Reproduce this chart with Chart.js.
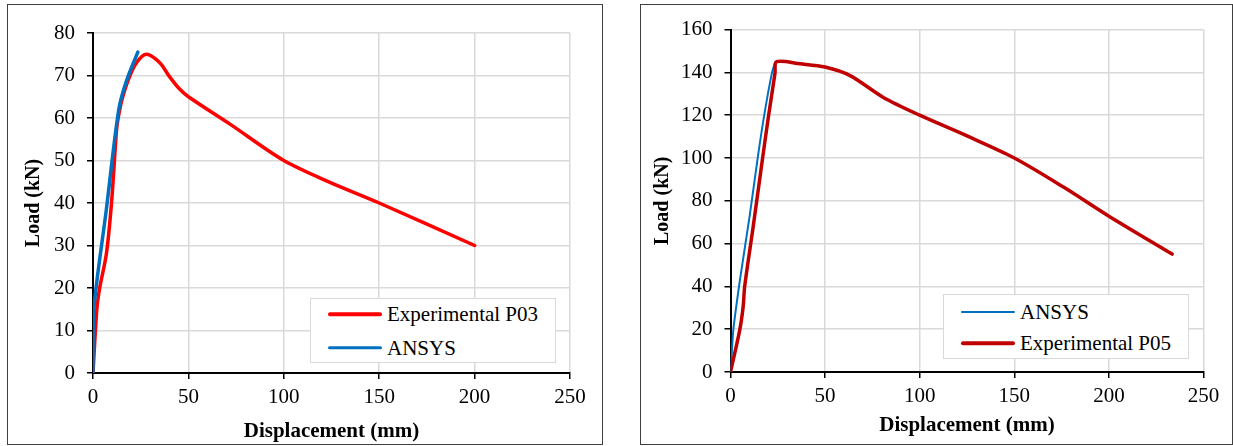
<!DOCTYPE html>
<html>
<head>
<meta charset="utf-8">
<script src="https://cdn.jsdelivr.net/npm/chart.js@4.4.1/dist/chart.umd.min.js"></script>
<style>
  body { margin: 0; background: #fff; width: 1233px; height: 446px; position: relative; overflow: hidden; }
  .panel { position: absolute; top: 4px; height: 441px; border: 1px solid #404040; box-sizing: border-box; background: #fff; }
  .panel canvas { position: absolute; left: 0; top: 0; }
  .legend { position: absolute; width: 246px; height: 65px; background: #fff; border: 1px solid #d9d9d9; box-sizing: border-box;
            font-family: "Liberation Serif", "Times New Roman", serif; font-size: 21px; color: #000; }
  .legend .row { position: absolute; left: 0; height: 24px; width: 100%; }
  .legend .swatch { position: absolute; left: 17px; top: 12px; width: 54px; border-radius: 2px; transform: translateY(-50%); }
  .legend .label { position: absolute; left: 76px; top: 0; line-height: 24px; white-space: nowrap; }
</style>
</head>
<body>
<div class="panel" style="left:7px;width:596px;"><canvas id="chartP03" width="594" height="439"></canvas></div>
<div class="panel" style="left:640px;width:593px;"><canvas id="chartP05" width="591" height="439"></canvas></div>
<div class="legend" id="legendP03" style="left:310px;top:298px;"></div>
<div class="legend" id="legendP05" style="left:943px;top:294px;"></div>

<script>
/* Load vs displacement, specimens P03 and P05 */

// P03 - experimental
const p03Disp = [0, 2, 3.5, 7, 9.7, 12.3, 13.2, 15, 18.5, 22.8, 28, 35, 40, 45, 50, 72, 100, 124.5, 150, 200];
const p03Load = [0, 15, 20, 28, 40, 57, 60, 64, 69, 73, 75, 73, 69.8, 67, 65, 58.5, 50, 44.8, 40, 30];
// P03 - ANSYS
const ansys03Disp = [0, 0.2, 7, 13.5, 17.6, 23.5];
const ansys03Load = [0, 14, 38.5, 62, 68.8, 75.5];

// P05 - experimental
const p05Disp = [0, 4.9, 6.7, 7.5, 12, 16.5, 20, 23.5, 24.4, 36.8, 50, 63.2, 80.8, 100, 125, 150, 176, 200, 233.4];
const p05Load = [0, 19.7, 30.6, 40, 68, 97, 119, 139.5, 145, 144, 142.5, 138.5, 128.3, 120, 110.3, 100, 86.4, 72.8, 55.1];
// P05 - ANSYS
const ansys05Disp = [0, 0.6, 1.5, 5, 10.3, 14.7, 18.2, 21.8, 23.5];
const ansys05Load = [0, 7.3, 19.7, 43, 74, 102, 122, 139.3, 144.7];

const xTicks = [0, 50, 100, 150, 200, 250];

Chart.defaults.font.family = '"Liberation Serif", "Times New Roman", serif';
Chart.defaults.font.size = 21;
Chart.defaults.color = '#000';

function toPoints(xs, ys) {
  return xs.map((x, i) => ({ x: x, y: ys[i] }));
}

function series(label, xs, ys, color, width, order) {
  return {
    label: label,
    data: toPoints(xs, ys),
    borderColor: color,
    backgroundColor: color,
    borderWidth: width,
    pointRadius: 0,
    tension: 0.3,
    borderCapStyle: 'round',
    borderJoinStyle: 'round',
    order: order
  };
}

function makeScales(o) {
  return {
    x: {
      type: 'linear',
      min: xTicks[0],
      max: xTicks[xTicks.length - 1],
      afterBuildTicks: s => { s.ticks = xTicks.map(v => ({ value: v })); },
      ticks: { padding: 6, maxRotation: 0 },
      grid: { color: '#d9d9d9', lineWidth: 1.5, tickColor: '#000', tickLength: 6, tickWidth: 1.5 },
      border: { color: '#000', width: 2 },
      title: { display: true, text: 'Displacement (mm)', font: { weight: 'bold', size: 21 },
               padding: { top: 0, bottom: o.xTitlePad } },
      afterFit: s => { s.height = o.xHeight; }
    },
    y: {
      type: 'linear',
      min: 0,
      max: o.yMax,
      ticks: { stepSize: o.yStep, padding: 12 },
      grid: { color: '#d9d9d9', lineWidth: 1.5, tickColor: '#000', tickLength: 6, tickWidth: 1.5 },
      border: { color: '#000', width: 2 },
      title: { display: true, text: 'Load (kN)', font: { weight: 'bold', size: 20 },
               padding: { top: o.yTitlePad, bottom: 0 } },
      afterFit: s => { s.width = o.yWidth; }
    }
  };
}

function makeChart(id, datasets, o) {
  return new Chart(document.getElementById(id), {
    type: 'line',
    data: { datasets: datasets },
    options: {
      responsive: false,
      animation: false,
      devicePixelRatio: 1,
      layout: { padding: { left: 0, right: o.padRight, top: o.padTop, bottom: 0 } },
      plugins: { legend: { display: false }, tooltip: { enabled: false } },
      scales: makeScales(o)
    }
  });
}

function makeLegend(id, items, rows) {
  const box = document.getElementById(id);
  items.forEach((ds, i) => {
    const row = document.createElement('div');
    row.className = 'row';
    row.style.top = (rows[i] - 12) + 'px';
    const sw = document.createElement('span');
    sw.className = 'swatch';
    sw.style.height = ds.borderWidth + 'px';
    sw.style.background = ds.borderColor;
    const lb = document.createElement('span');
    lb.className = 'label';
    lb.textContent = ds.label;
    row.appendChild(sw);
    row.appendChild(lb);
    box.appendChild(row);
  });
}

// Left chart
const exp03 = series('Experimental P03', p03Disp, p03Load, '#ff0000', 3.5, 2);
const ans03 = series('ANSYS', ansys03Disp, ansys03Load, '#0070c0', 3.5, 1);
makeChart('chartP03', [exp03, ans03], {
  yMax: 80, yStep: 10, yWidth: 85, yTitlePad: 14,
  xHeight: 71, xTitlePad: 0, padRight: 32, padTop: 28
});
makeLegend('legendP03', [exp03, ans03], [15.3, 48.7]);

// Right chart
const ans05 = series('ANSYS', ansys05Disp, ansys05Load, '#0070c0', 2, 2);
const exp05 = series('Experimental P05', p05Disp, p05Load, '#c00000', 3.5, 1);
makeChart('chartP05', [ans05, exp05], {
  yMax: 160, yStep: 20, yWidth: 89.5, yTitlePad: 10,
  xHeight: 72, xTitlePad: 6, padRight: 28.5, padTop: 24
});
makeLegend('legendP05', [ans05, exp05], [16.7, 48.3]);
</script>
</body>
</html>
